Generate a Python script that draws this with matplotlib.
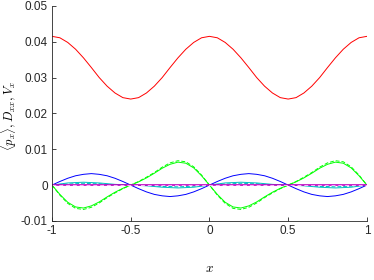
import numpy as np
import matplotlib.pyplot as plt

plt.rcParams['font.family'] = ['Liberation Sans', 'DejaVu Sans']
plt.rcParams['mathtext.fontset'] = 'cm'

x = np.linspace(-1, 1, 41)

p_x = [0.0415, 0.0411, 0.0398, 0.0379, 0.0355, 0.0328, 0.0300, 0.0276, 0.0257, 0.0244,
       0.0240, 0.0244, 0.0257, 0.0276, 0.0300, 0.0328, 0.0355, 0.0379, 0.0398, 0.0411,
       0.0415, 0.0411, 0.0398, 0.0379, 0.0355, 0.0328, 0.0300, 0.0276, 0.0257, 0.0244,
       0.0240, 0.0244, 0.0257, 0.0276, 0.0300, 0.0328, 0.0355, 0.0379, 0.0398, 0.0411,
       0.0415]

d_xx = [0, 0.0010, 0.0019, 0.0026, 0.0030, 0.0032, 0.0030, 0.0026, 0.0019, 0.0010,
        0, -0.0010, -0.0019, -0.0026, -0.0030, -0.0032, -0.0030, -0.0026, -0.0019, -0.0010,
        0, 0.0010, 0.0019, 0.0026, 0.0030, 0.0032, 0.0030, 0.0026, 0.0019, 0.0010,
        0, -0.0010, -0.0019, -0.0026, -0.0030, -0.0032, -0.0030, -0.0026, -0.0019, -0.0010,
        0]

v_x = [0, -0.0026, -0.0048, -0.0061, -0.0064, -0.0058, -0.0047, -0.0033, -0.0020, -0.0009,
       0, 0.0009, 0.0020, 0.0033, 0.0047, 0.0058, 0.0064, 0.0061, 0.0048, 0.0026,
       0, -0.0026, -0.0048, -0.0061, -0.0064, -0.0058, -0.0047, -0.0033, -0.0020, -0.0009,
       0, 0.0009, 0.0020, 0.0033, 0.0047, 0.0058, 0.0064, 0.0061, 0.0048, 0.0026,
       0]

v_x_ref = [0, -0.0028, -0.0051, -0.0065, -0.0068, -0.0062, -0.0050, -0.0035, -0.0022, -0.0010,
           0, 0.0010, 0.0022, 0.0035, 0.0050, 0.0062, 0.0068, 0.0065, 0.0051, 0.0028,
           0, -0.0028, -0.0051, -0.0065, -0.0068, -0.0062, -0.0050, -0.0035, -0.0022, -0.0010,
           0, 0.0010, 0.0022, 0.0035, 0.0050, 0.0062, 0.0068, 0.0065, 0.0051, 0.0028,
           0]

small = [0, 0.0003, 0.0006, 0.0007, 0.0008, 0.0007, 0.0006, 0.0004, 0.0002, 0.0001,
         0, -0.0001, -0.0002, -0.0004, -0.0006, -0.0007, -0.0008, -0.0007, -0.0006, -0.0003,
         0, 0.0003, 0.0006, 0.0007, 0.0008, 0.0007, 0.0006, 0.0004, 0.0002, 0.0001,
         0, -0.0001, -0.0002, -0.0004, -0.0006, -0.0007, -0.0008, -0.0007, -0.0006, -0.0003,
         0]

small_ref = [0, 0.0002, 0.0003, 0.0004, 0.0005, 0.0004, 0.0004, 0.0002, 0.0001, 0.0001,
             0, -0.0001, -0.0001, -0.0002, -0.0004, -0.0004, -0.0005, -0.0004, -0.0003, -0.0002,
             0, 0.0002, 0.0003, 0.0004, 0.0005, 0.0004, 0.0004, 0.0002, 0.0001, 0.0001,
             0, -0.0001, -0.0001, -0.0002, -0.0004, -0.0004, -0.0005, -0.0004, -0.0003, -0.0002,
             0]

zero = [0.0] * 41

fig = plt.figure(figsize=(3.74, 2.8), dpi=100)
ax = fig.add_axes([0.139, 0.211, 0.842, 0.768])

lw = 0.7
ax.plot(x, p_x, color='r', lw=lw)
ax.plot(x, d_xx, color='b', lw=lw)
ax.plot(x, v_x, color=(0, 1, 0), lw=lw)
ax.plot(x, v_x_ref, color=(0, 1, 0), lw=lw, ls='--', dashes=(4, 2))
ax.plot(x, small, color='c', lw=lw)
ax.plot(x, small_ref, color='c', lw=lw, ls='--', dashes=(4, 2))
ax.plot(x, zero, color='m', lw=1.2)
ax.plot(x, zero, color=(1, 0.7, 1), lw=0.7, ls='--', dashes=(4, 3))

ax.set_xlim(-1, 1)
ax.set_ylim(-0.01, 0.05)
ax.set_xticks([-1, -0.5, 0, 0.5, 1])
ax.set_xticklabels(['-1', '-0.5', '0', '0.5', '1'])
ax.set_yticks([-0.01, 0, 0.01, 0.02, 0.03, 0.04, 0.05])
ax.set_yticklabels(['-0.01', '0', '0.01', '0.02', '0.03', '0.04', '0.05'])

for s in ['top', 'right']:
    ax.spines[s].set_visible(False)
for s in ['left', 'bottom']:
    ax.spines[s].set_color('#262626')
    ax.spines[s].set_linewidth(0.6)
ax.tick_params(direction='in', length=3, width=0.6, colors='#262626', labelsize=8.5, pad=3)

ax.set_xlabel(r'$x$', fontsize=9.5)
ax.xaxis.set_label_coords(0.5, -0.195)
ax.set_ylabel(r'$\langle p_x \rangle, D_{xx}, V_x$', fontsize=9)
ax.yaxis.set_label_coords(-0.105, 0.49)

fig.savefig('out.png', dpi=100)
